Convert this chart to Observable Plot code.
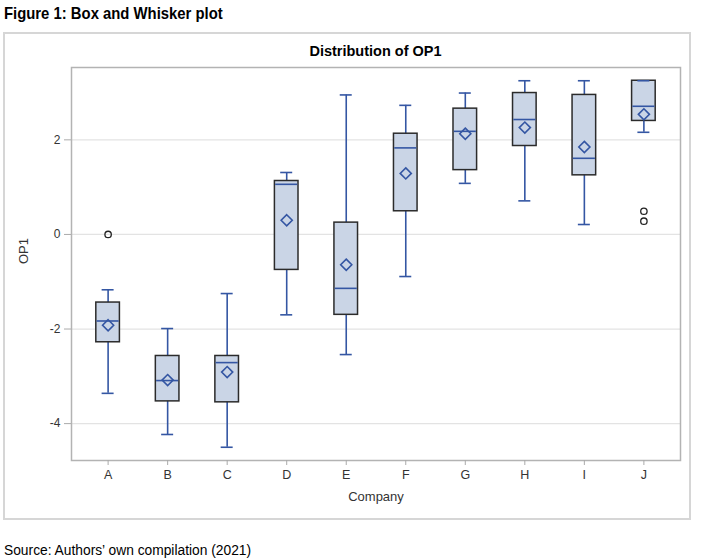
<!DOCTYPE html>
<html>
<head>
<meta charset="utf-8">
<script src="https://cdn.jsdelivr.net/npm/d3@7"></script>
<script src="https://cdn.jsdelivr.net/npm/@observablehq/plot@0.6"></script>
<style>
  html, body { margin: 0; padding: 0; background: #fff; }
  #page { position: relative; width: 702px; height: 560px; overflow: hidden; }
  .abs { position: absolute; white-space: nowrap; }
  #figtitle { left: 4px; top: 5px; font: bold 16.5px/16.5px "Liberation Sans Narrow", "Arial Narrow", "Liberation Sans", sans-serif; color: #000; transform: scaleX(0.9); transform-origin: 0 0; }
  #frameBox { left: 3px; top: 32px; width: 688px; height: 488px; box-sizing: border-box; border: 2px solid #d6d6d6; }
  #chartTitle { left: 375.5px; top: 44px; transform: translateX(-50%); font: bold 14.5px/14.5px "Liberation Sans", Arial, sans-serif; color: #000; }
  #caption { left: 4px; top: 543px; font: 14px/14px "Liberation Sans Narrow", "Arial Narrow", "Liberation Sans", sans-serif; color: #000; transform: scaleX(0.985); transform-origin: 0 0; }
  #chart { left: 0; top: 0; }
</style>
</head>
<body>
<div id="page">
  <div class="abs" id="frameBox"></div>
  <div class="abs" id="figtitle">Figure 1: Box and Whisker plot</div>
  <div class="abs" id="chartTitle">Distribution of OP1</div>
  <div class="abs" id="chart"></div>
  <div class="abs" id="caption">Source: Authors’ own compilation (2021)</div>
</div>
<script>
// ---- data ----
const companies    = ["A", "B", "C", "D", "E", "F", "G", "H", "I", "J"];
const lowerWhisker = [-3.36, -4.23, -4.50, -1.70, -2.54, -0.89, 1.08, 0.71, 0.21, 2.16];
const q1           = [-2.28, -3.53, -3.55, -0.75, -1.70, 0.49, 1.36, 1.87, 1.25, 2.40];
const median       = [-1.83, -3.09, -2.71, 1.06, -1.14, 1.83, 2.18, 2.43, 1.61, 2.71];
const q3           = [-1.44, -2.57, -2.57, 1.13, 0.25, 2.13, 2.66, 2.99, 2.95, 3.25];
const upperWhisker = [-1.17, -1.99, -1.25, 1.31, 2.95, 2.73, 2.99, 3.25, 3.25, 3.25];
const mean         = [-1.92, -3.08, -2.91, 0.30, -0.64, 1.29, 2.13, 2.26, 1.85, 2.54];
const outlierCompany = ["A", "J", "J"];
const outlierValue   = [0.00, 0.49, 0.28];
const yTicks = [-4, -2, 0, 2];

const rows = companies.map((c, i) => ({
  company: c, lo: lowerWhisker[i], q1: q1[i], med: median[i], q3: q3[i], hi: upperWhisker[i], mean: mean[i]
}));
const outliers = outlierCompany.map((c, i) => ({company: c, value: outlierValue[i]}));

const blue = "#3456a3";
const step = 609 / (10 + 2 * 0.115);
const boxInset = (step - 23.6) / 2;
const capInset = (step - 12) / 2;

const chart = Plot.plot({
  width: 702,
  height: 525,
  marginLeft: 71,
  marginRight: 22,
  marginTop: 67,
  marginBottom: 65,
  style: {fontFamily: "'Liberation Sans', Arial, sans-serif", fontSize: "12px", background: "transparent", color: "#333"},
  x: {type: "band", domain: companies, paddingInner: 0, paddingOuter: 0.115, round: false, label: null},
  y: {domain: [-4.78, 3.53], label: null},
  marks: [
    Plot.gridY({ticks: yTicks, stroke: "#e3e3e3", strokeOpacity: 1, strokeWidth: 1.2}),
    Plot.ruleX(rows, {x: "company", y1: "lo", y2: "hi", stroke: blue, strokeWidth: 1.6}),
    Plot.barY(rows, {x: "company", y1: "q1", y2: "q3", fill: "#cad5e6", stroke: "#2b2b2b", strokeWidth: 1.5, insetLeft: boxInset, insetRight: boxInset}),
    Plot.tickY(rows, {x: "company", y: "lo", stroke: blue, strokeWidth: 1.6, insetLeft: capInset, insetRight: capInset}),
    Plot.tickY(rows, {x: "company", y: "hi", stroke: blue, strokeWidth: 1.6, insetLeft: capInset, insetRight: capInset}),
    Plot.tickY(rows, {x: "company", y: "med", stroke: blue, strokeWidth: 1.6, insetLeft: boxInset + 0.75, insetRight: boxInset + 0.75}),
    Plot.dot(rows, {x: "company", y: "mean", symbol: "diamond2", r: 5, stroke: blue, strokeWidth: 1.6, fill: "none"}),
    Plot.dot(outliers, {x: "company", y: "value", symbol: "circle", r: 3.2, stroke: "#222", strokeWidth: 1.3, fill: "none"}),
    Plot.frame({stroke: "#b3b3b3", strokeWidth: 1.5}),
    Plot.axisY({ticks: yTicks, tickSize: 7, tickPadding: 4, stroke: "#aaa", fill: "#333", fontSize: 12, label: null, tickFormat: d => String(d)}),
    Plot.axisX({tickSize: 5, tickPadding: 5, stroke: "#aaa", fill: "#333", fontSize: 12.5, label: null}),
    Plot.text(["Company"], {frameAnchor: "bottom", dy: 40, fontSize: 13, fill: "#333"}),
    Plot.text(["OP1"], {frameAnchor: "left", dx: -48, rotate: -90, fontSize: 13, fill: "#333"})
  ]
});
document.getElementById("chart").appendChild(chart);
</script>
</body>
</html>
